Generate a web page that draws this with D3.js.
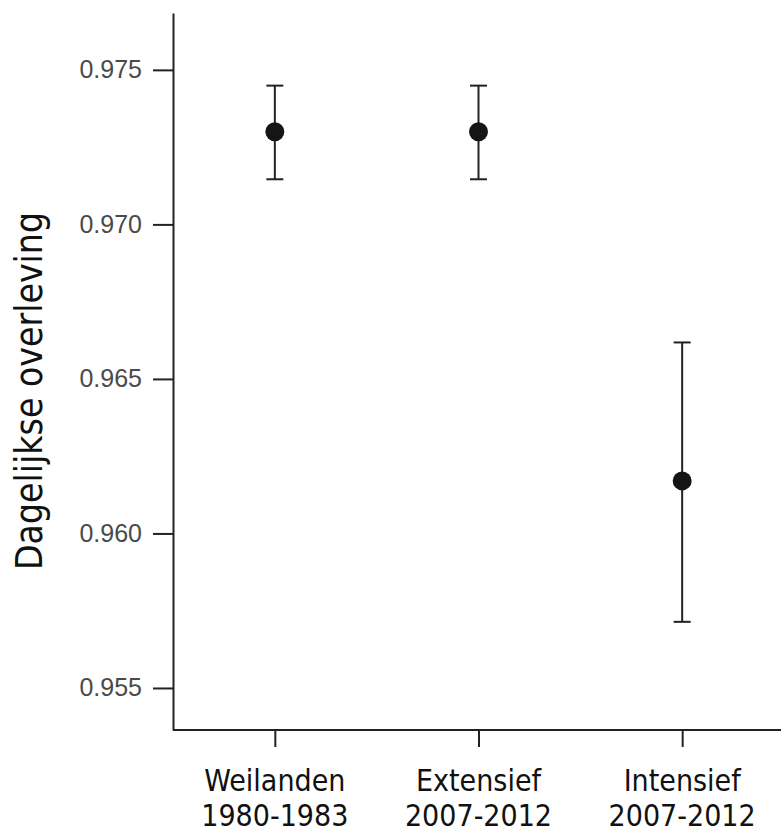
<!DOCTYPE html>
<html>
<head>
<meta charset="utf-8">
<script src="https://cdn.jsdelivr.net/npm/d3@7"></script>
<style>
  html, body { margin: 0; padding: 0; background: #fff; }
  svg { display: block; }
</style>
</head>
<body>
<svg id="chart" width="781" height="835"></svg>
<script>
// ---- data ----
const categories = ["Weilanden\n1980-1983", "Extensief\n2007-2012", "Intensief\n2007-2012"];
const estimates  = [0.9730, 0.9730, 0.9617];
const upperCI    = [0.97449, 0.97449, 0.96618];
const lowerCI    = [0.97146, 0.97146, 0.95714];
const yTicks     = [0.955, 0.960, 0.965, 0.970, 0.975];
const yTickLabels = ["0.955", "0.960", "0.965", "0.970", "0.975"];
const yLabel = "Dagelijkse overleving";

(function () {
const data = categories.map((c, i) => ({ c, est: estimates[i], hi: upperCI[i], lo: lowerCI[i] }));

const svg = d3.select("#chart");
const mLeft = 173, mRight = 784, mTop = 13, mBottom = 730;

const x = d3.scalePoint().domain(categories).range([mLeft, mRight]).padding(0.5);
const y = d3.scaleLinear().domain([0.95364, 0.97684]).range([mBottom, mTop]);

// y axis
const yAxis = d3.axisLeft(y)
  .tickValues(yTicks)
  .tickFormat((d, i) => yTickLabels[i])
  .tickSize(20).tickSizeOuter(0).tickPadding(11);
const gy = svg.append("g").attr("transform", `translate(${mLeft},0)`).call(yAxis);
gy.select(".domain").attr("stroke", "#222").attr("stroke-width", 2);
gy.selectAll(".tick line").attr("stroke", "#222").attr("stroke-width", 2);
gy.selectAll(".tick text")
  .attr("fill", "#4a4a4a")
  .style("font-family", "'Liberation Sans', Arial, sans-serif")
  .style("font-size", "25px");

// x axis
const xAxis = d3.axisBottom(x).tickSize(17).tickSizeOuter(0).tickFormat("");
const gx = svg.append("g").attr("transform", `translate(0,${mBottom})`).call(xAxis);
gx.select(".domain").attr("stroke", "#222").attr("stroke-width", 2)
  .attr("d", `M${mLeft},0H${781}`);
gx.selectAll(".tick line").attr("stroke", "#222").attr("stroke-width", 2);

// x category labels (two lines)
const xl = svg.append("g")
  .style("font-family", "'DejaVu Sans Condensed', 'DejaVu Sans', sans-serif")
  .style("font-size", "30px")
  .attr("fill", "#111");
categories.forEach(c => {
  c.split("\n").forEach((ln, j) => {
    xl.append("text")
      .attr("x", x(c))
      .attr("y", 791 + j * 35)
      .attr("text-anchor", "middle")
      .text(ln);
  });
});

// y label
svg.append("text")
  .attr("transform", "translate(42,391) rotate(-90)")
  .attr("text-anchor", "middle")
  .style("font-family", "'DejaVu Sans Condensed', 'DejaVu Sans', sans-serif")
  .style("font-size", "37px")
  .attr("fill", "#111")
  .text(yLabel);

// error bars
const capHalf = 8.5;
const g = svg.append("g");
g.selectAll("line.err").data(data).join("line")
  .attr("class", "err")
  .attr("x1", d => x(d.c)).attr("x2", d => x(d.c))
  .attr("y1", d => y(d.hi)).attr("y2", d => y(d.lo))
  .attr("stroke", "#222").attr("stroke-width", 2);
g.selectAll("line.capHi").data(data).join("line")
  .attr("class", "capHi")
  .attr("x1", d => x(d.c) - capHalf).attr("x2", d => x(d.c) + capHalf)
  .attr("y1", d => y(d.hi)).attr("y2", d => y(d.hi))
  .attr("stroke", "#222").attr("stroke-width", 2);
g.selectAll("line.capLo").data(data).join("line")
  .attr("class", "capLo")
  .attr("x1", d => x(d.c) - capHalf).attr("x2", d => x(d.c) + capHalf)
  .attr("y1", d => y(d.lo)).attr("y2", d => y(d.lo))
  .attr("stroke", "#222").attr("stroke-width", 2);
g.selectAll("circle").data(data).join("circle")
  .attr("cx", d => x(d.c)).attr("cy", d => y(d.est))
  .attr("r", 9.5).attr("fill", "#151515");
})();
</script>
</body>
</html>
